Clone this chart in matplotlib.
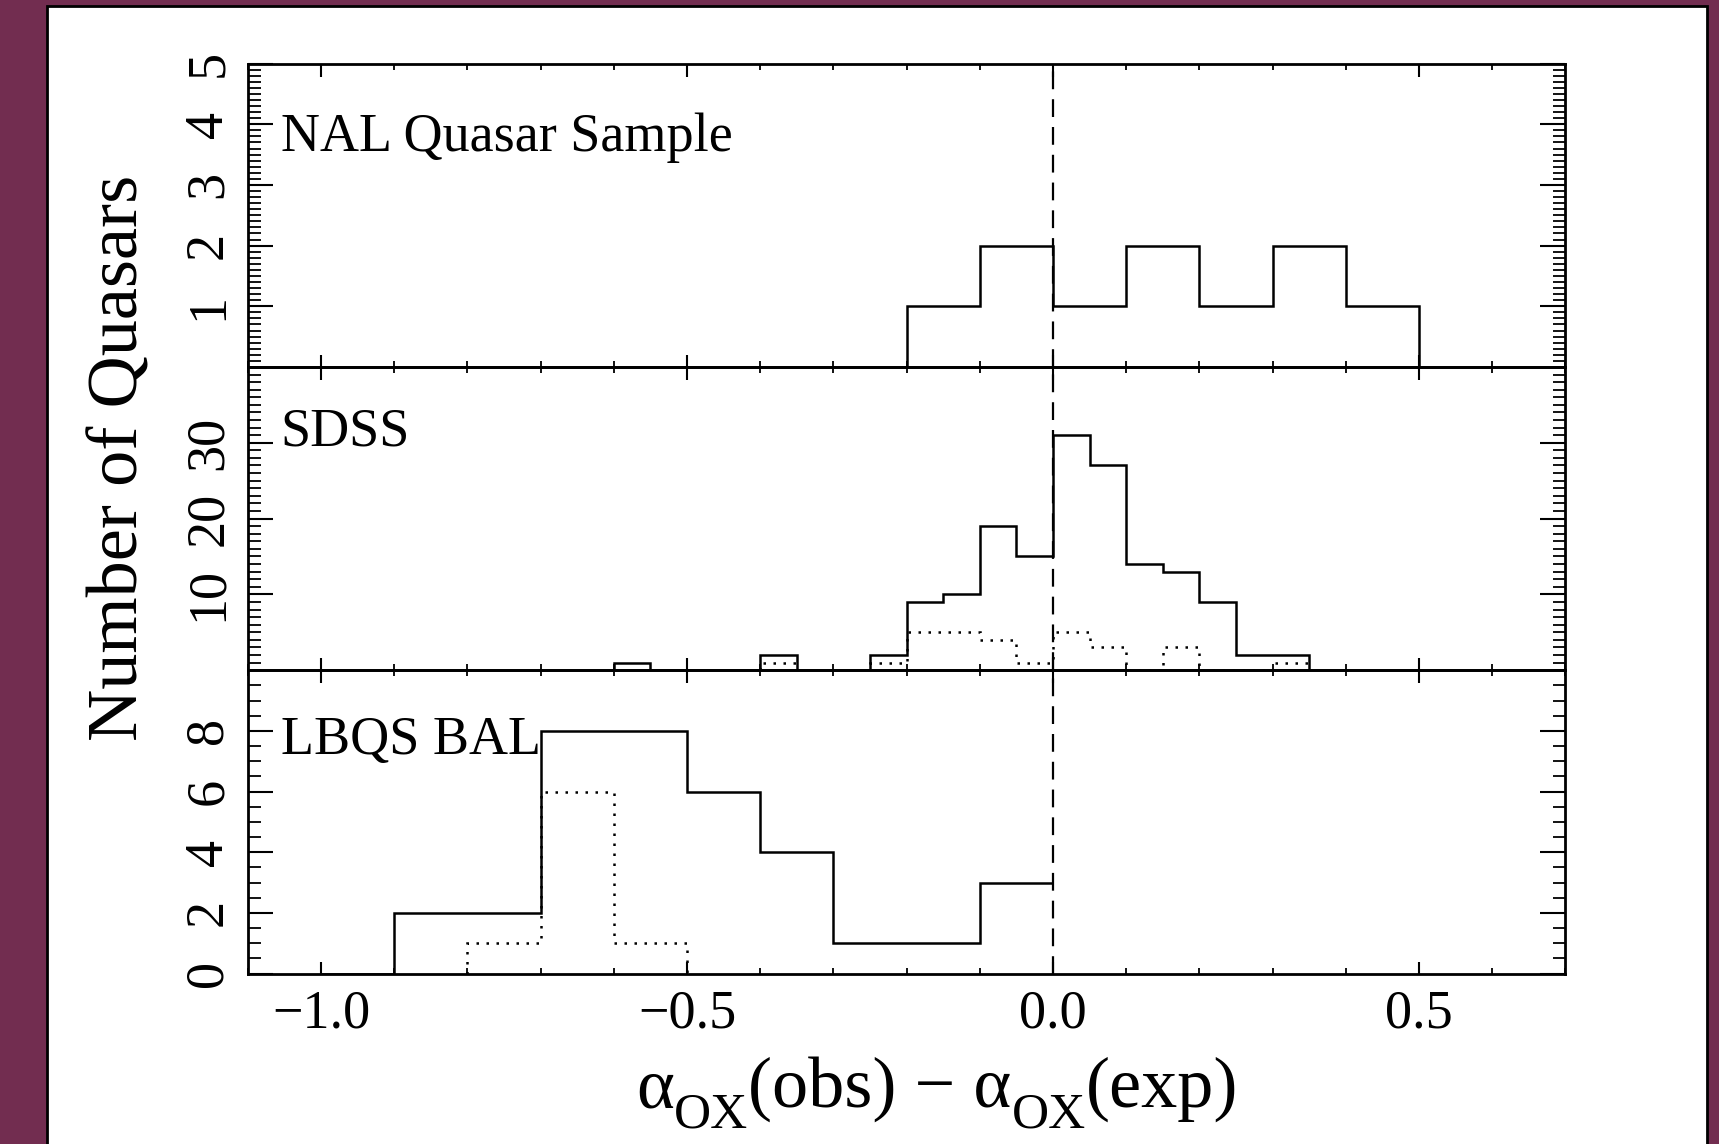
import matplotlib
matplotlib.use("Agg")
import matplotlib.pyplot as plt
from matplotlib.patches import Rectangle
from matplotlib.ticker import MultipleLocator

plt.rcParams['font.family'] = ['Liberation Serif', 'DejaVu Serif']

# NAL quasar sample (0.1 bins)
nal_edges = [-0.2, -0.1, 0.0, 0.1, 0.2, 0.3, 0.4, 0.5]
nal_counts = [1, 2, 1, 2, 1, 2, 1]

# SDSS (0.05 bins), solid = all, dotted = subset
sdss_edges = [-0.6, -0.55, -0.5, -0.45, -0.4, -0.35, -0.3, -0.25, -0.2, -0.15,
              -0.1, -0.05, 0.0, 0.05, 0.1, 0.15, 0.2, 0.25, 0.3, 0.35]
sdss_counts = [1, 0, 0, 0, 2, 0, 0, 2, 9, 10, 19, 15, 31, 27, 14, 13, 9, 2, 2]
sdss_sub_edges = [-0.4, -0.35, -0.3, -0.25, -0.2, -0.15, -0.1, -0.05, 0.0,
                  0.05, 0.1, 0.15, 0.2, 0.25, 0.3, 0.35]
sdss_sub_counts = [1, 0, 0, 1, 5, 5, 4, 1, 5, 3, 0, 3, 0, 0, 1]

# LBQS BAL (0.1 bins)
bal_edges = [-1.0, -0.9, -0.8, -0.7, -0.6, -0.5, -0.4, -0.3, -0.2, -0.1, 0.0]
bal_counts = [0, 2, 2, 8, 8, 6, 4, 1, 1, 3]
bal_sub_edges = [-0.8, -0.7, -0.6, -0.5]
bal_sub_counts = [1, 6, 1]

panel_names = ["NAL Quasar Sample", "SDSS", "LBQS BAL"]
panel_ylims = [(0, 5), (0, 40), (0, 10)]
panel_yticks = [[1, 2, 3, 4, 5], [10, 20, 30], [0, 2, 4, 6, 8]]
panel_yminor = [0.1, 1, 0.5]
panel_text_y = [3.56, 29.7, 7.25]

xticks = [-1.0, -0.5, 0.0, 0.5]
xticklabels = ["\u22121.0", "\u22120.5", "0.0", "0.5"]

# x label pieces: (text, fontsize, baseline shift in px)
xlabel_parts = [("\u03b1", 52, 0), ("OX", 37, -20), ("(obs) \u2212 \u03b1", 52, 0),
                ("OX", 37, -20), ("(exp)", 52, 0)]

W, H = 1719, 1144
fig = plt.figure(figsize=(W / 100, H / 100), dpi=100, facecolor='#722D50')
fig.add_artist(Rectangle((47 / W, -0.01), (1707 - 47) / W, 1.01 - 6 / H,
                         transform=fig.transFigure, facecolor='white',
                         edgecolor='black', lw=2, zorder=0))

gs = fig.add_gridspec(3, 1, left=0.1442, right=0.9107, top=0.9444, bottom=0.149, hspace=0)
axs = [fig.add_subplot(gs[i]) for i in range(3)]

lw_hist = 1.8
axs[0].stairs(nal_counts, nal_edges, baseline=0, color='black', lw=lw_hist)
axs[1].stairs(sdss_counts, sdss_edges, baseline=0, color='black', lw=lw_hist)
axs[1].stairs(sdss_sub_counts, sdss_sub_edges, baseline=0, color='black', lw=lw_hist,
              ls=(0, (1, 3)))
axs[2].stairs(bal_counts, bal_edges, baseline=None, color='black', lw=lw_hist)
axs[2].stairs(bal_sub_counts, bal_sub_edges, baseline=0, color='black', lw=lw_hist,
              ls=(0, (1, 3)))

for i, ax in enumerate(axs):
    ax.set_facecolor('none')
    ax.set_xlim(-1.1, 0.7)
    ax.set_ylim(*panel_ylims[i])
    ax.axvline(0.0, color='black', lw=1.6, ls=(0, (8, 4.5)))
    for sp in ax.spines.values():
        sp.set_linewidth(2)
    ax.set_xticks(xticks)
    ax.xaxis.set_minor_locator(MultipleLocator(0.1))
    ax.set_yticks(panel_yticks[i])
    ax.yaxis.set_minor_locator(MultipleLocator(panel_yminor[i]))
    ax.tick_params(which='both', direction='in', top=True, right=True)
    ax.tick_params(axis='y', which='major', length=18, width=1.5, pad=10, labelsize=39)
    ax.tick_params(axis='y', which='minor', length=9, width=1.3)
    ax.tick_params(axis='x', which='major', length=9, width=1.5, pad=11, labelsize=39)
    ax.tick_params(axis='x', which='minor', length=4.5, width=1.3)
    for lbl in ax.get_yticklabels():
        lbl.set_rotation(90)
        lbl.set_va('center')
    if i < 2:
        ax.set_xticklabels([])
    else:
        ax.set_xticklabels(xticklabels)
    ax.text(-1.055, panel_text_y[i], panel_names[i], fontsize=39, va='baseline', ha='left')

fig.text(0.070, 0.6, "Number of Quasars", rotation=90, fontsize=52,
         ha='center', va='center')

# x label built piece by piece so the subscripts can be large like the original
renderer = fig.canvas.get_renderer()
texts = []
for s, fs, dy in xlabel_parts:
    t = fig.text(0, 0, s, fontsize=fs, va='baseline', ha='left')
    texts.append((t, dy))
widths = [t.get_window_extent(renderer).width for t, _ in texts]
x = 937 - sum(widths) / 2
base = 37
for (t, dy), w in zip(texts, widths):
    t.set_position((x / W, (base + dy) / H))
    x += w

fig.savefig("out.png", dpi=100, facecolor=fig.get_facecolor())
